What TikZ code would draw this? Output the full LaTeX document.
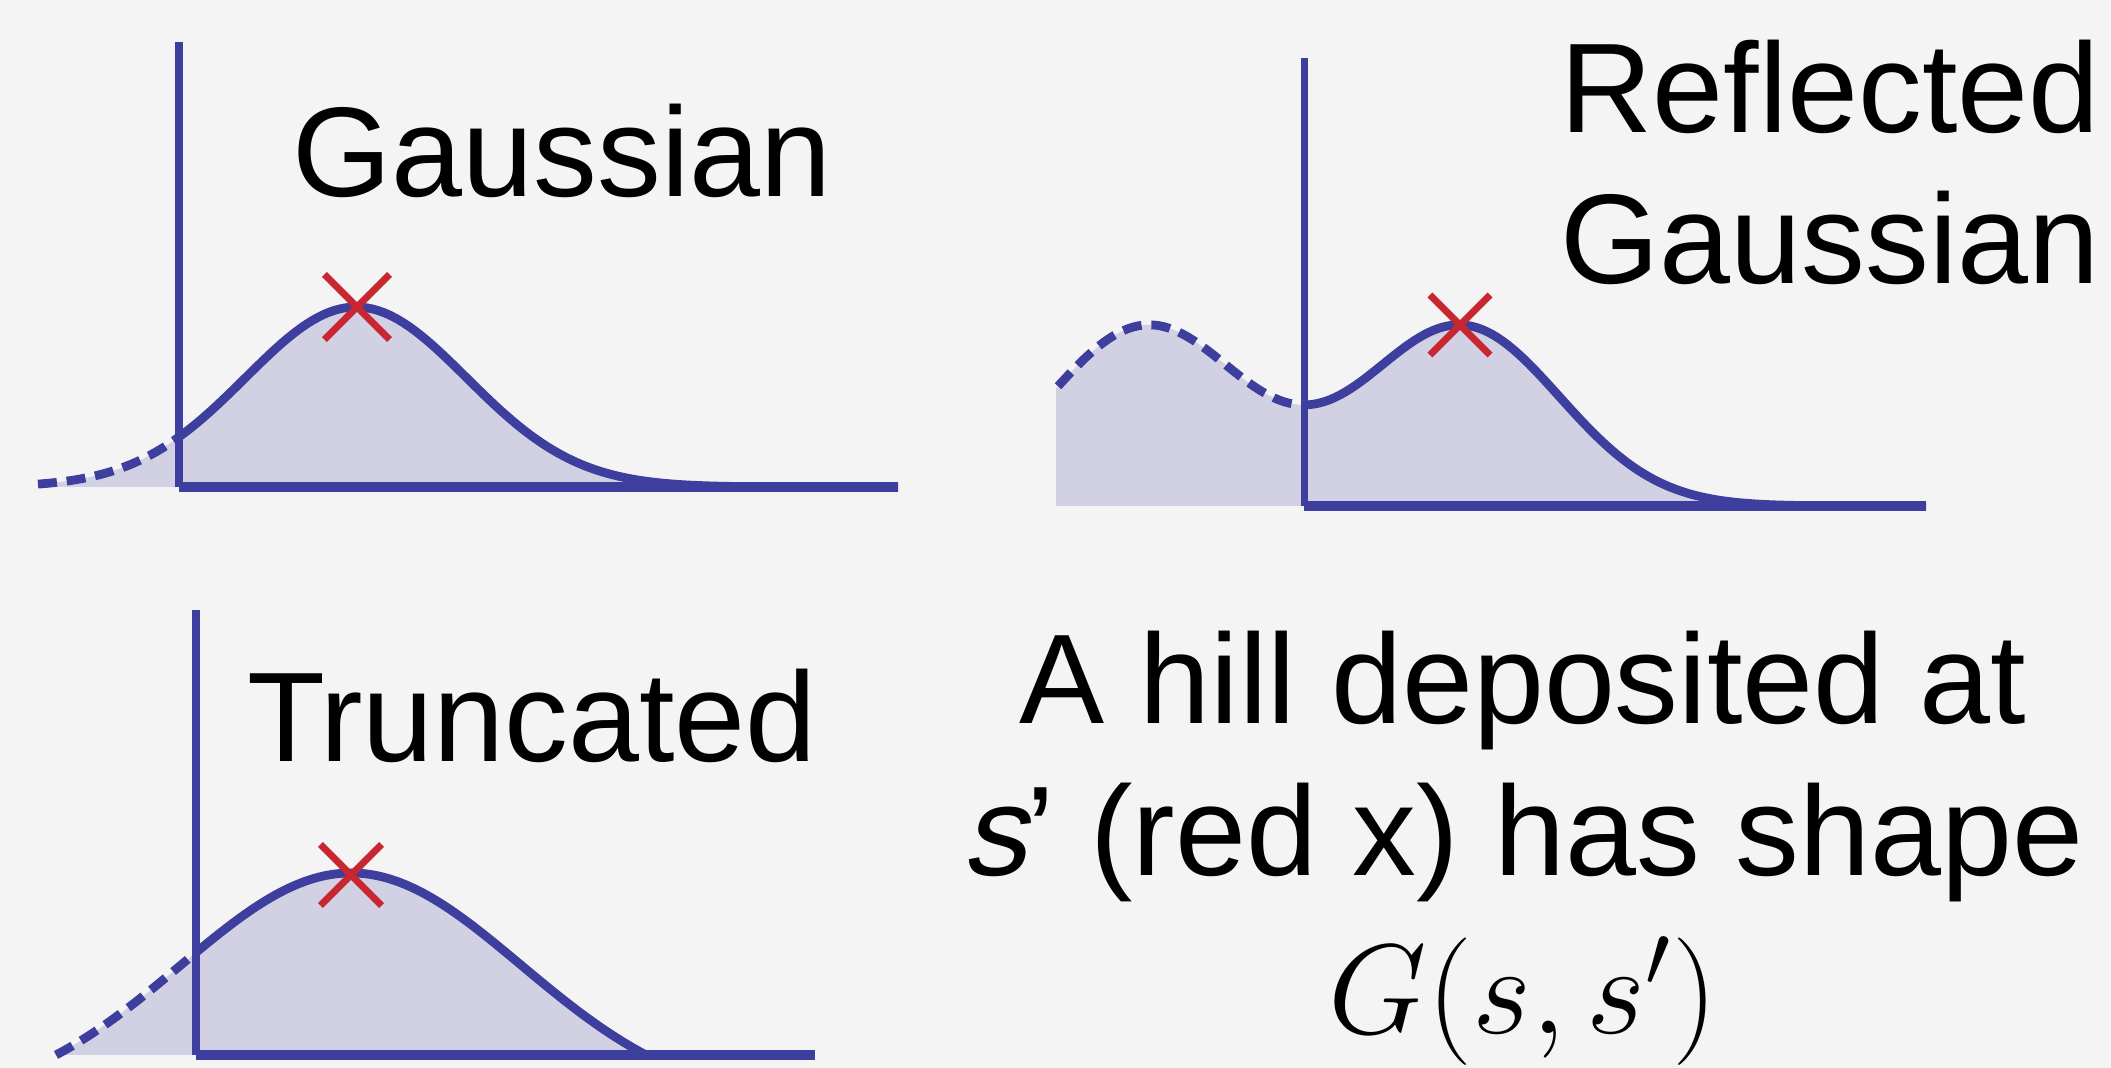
\RequirePackage{fix-cm}
\documentclass[tikz,border=0pt]{standalone}
\usepackage[no-math]{fontspec}
\setmainfont{Liberation Sans}
\newfontfamily\slantsans{Liberation Sans}[FakeSlant=0.21]
\usepackage{tikz}
\usetikzlibrary{shapes.misc}
\definecolor{cbg}   {RGB}{244,244,244}
\definecolor{cline} {RGB}{62, 62,158}
\definecolor{chill} {RGB}{210,209,228}
\definecolor{cred}  {RGB}{200, 38, 48}
\tikzset{
  vaxis/.style={draw=cline, line width=2.0pt},
  haxis/.style={draw=cline, line width=2.8pt},
  curve/.style={draw=cline, line width=2.5pt},
  tail/.style={curve, dash pattern=on 5.4pt off 2.8pt},
  hill/.style={fill=chill},
  xmark/.style={cross out, draw=cred, line width=2pt,
                minimum size=#1, inner sep=0pt},
  lbl/.style={font=\fontsize{36.3}{43.2}\selectfont, inner sep=0pt, text=black},
}

\begin{document}
\begin{tikzpicture}[x=0.1mm, y=-0.1mm]
  % ── Canvas ─────────────────────────────────────────────────────────────────
  \fill[cbg] (0,0) rectangle (2111,1068);
  \useasboundingbox (0,0) rectangle (2111,1068);

  % ── Gaussian ───────────────────────────────────────────────────────────────
  \coordinate (g-orig) at (179,487);
  \fill[hill] plot[domain=38:898, samples=120]
    (\x, {487-180*exp(-((\x-356)/110.6)^2/2)}) -- (898,487) -- (38,487) -- cycle;
  \draw[vaxis] (g-orig) -- (179,42);
  \draw[haxis] (g-orig) -- (898,487);
  \draw[tail]  plot[domain=38:179, samples=30]
    (\x, {487-180*exp(-((\x-356)/110.6)^2/2)});
  \draw[curve] plot[domain=179:898, samples=120]
    (\x, {487-180*exp(-((\x-356)/110.6)^2/2)});
  \node[xmark=5.8mm] (g-peak) at (357,307) {};
  \node[lbl, anchor=base] (gauss) at (562,197) {Gaussian};

  % ── Reflected Gaussian ─────────────────────────────────────────────────────
  \coordinate (r-orig) at (1304,506);
  \fill[hill] (1056,506) -- plot[domain=1056:1926, samples=150]
    (\x, {506-180*(exp(-((\x-1461)/98.5)^2/2)+exp(-((\x-1147)/98.5)^2/2))})
    -- (1926,506) -- cycle;
  \draw[vaxis] (r-orig) -- (1304,58);
  \draw[haxis] (r-orig) -- (1926,506);
  \draw[tail]  plot[domain=1058:1304, samples=50]
    (\x, {506-180*(exp(-((\x-1461)/98.5)^2/2)+exp(-((\x-1147)/98.5)^2/2))});
  \draw[curve] plot[domain=1304:1926, samples=120]
    (\x, {506-180*(exp(-((\x-1461)/98.5)^2/2)+exp(-((\x-1147)/98.5)^2/2))});
  \node[xmark=5.3mm] (r-peak) at (1460,325) {};
  \node[lbl, align=center, anchor=base] (refl) at (1830,284) {Reflected\\Gaussian};

  % ── Truncated ──────────────────────────────────────────────────────────────
  \coordinate (t-orig) at (196,1055);
  \fill[hill] plot[domain=56:646, samples=120]
    (\x, {1055-182*(exp(-((\x-351)/170)^2/2)-0.2218)/0.7782}) -- cycle;
  \draw[vaxis] (t-orig) -- (196,610);
  \draw[haxis] (t-orig) -- (815,1055);
  \draw[tail]  plot[domain=56:196, samples=30]
    (\x, {1055-182*(exp(-((\x-351)/170)^2/2)-0.2218)/0.7782});
  \draw[curve] plot[domain=196:646, samples=120]
    (\x, {1055-182*(exp(-((\x-351)/170)^2/2)-0.2218)/0.7782});
  \node[xmark=5.4mm] (t-peak) at (351,875) {};
  \node[lbl, anchor=base] (trunc) at (532,762) {Truncated};

  % ── Caption ────────────────────────────────────────────────────────────────
  \node[lbl, align=center, anchor=base] (caption) at (1523,1033)
    {A hill deposited at\\{\slantsans s}’ (red x) has shape\\[0.6mm]$G(s,s')$};
\end{tikzpicture}
\end{document}
